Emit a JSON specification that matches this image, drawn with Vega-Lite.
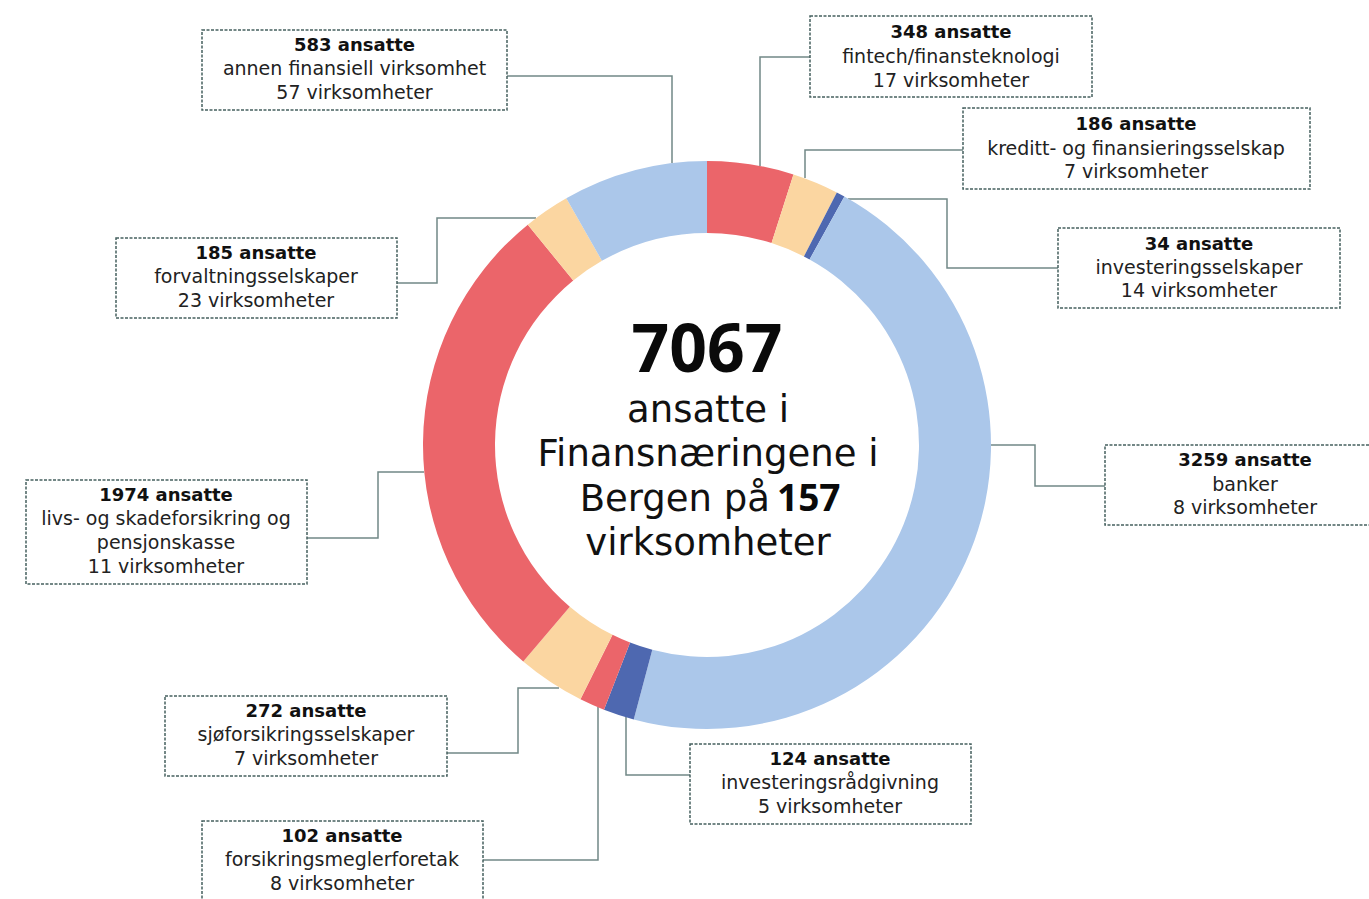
{
  "$schema": "https://vega.github.io/schema/vega-lite/v6.json",
  "width": 1369,
  "height": 899,
  "padding": 0,
  "autosize": {"type": "none"},
  "background": "white",
  "config": {"view": {"stroke": null}},
  "datasets": {
    "segs": [
      {"rank": 1, "cat": "fintech/finansteknologi", "ansatte": 348},
      {"rank": 2, "cat": "kreditt- og finansieringsselskap", "ansatte": 186},
      {"rank": 3, "cat": "investeringsselskaper", "ansatte": 34},
      {"rank": 4, "cat": "banker", "ansatte": 3259},
      {"rank": 5, "cat": "investeringsrådgivning", "ansatte": 124},
      {"rank": 6, "cat": "forsikringsmeglerforetak", "ansatte": 102},
      {"rank": 7, "cat": "sjøforsikringsselskaper", "ansatte": 272},
      {"rank": 8, "cat": "livs- og skadeforsikring og pensjonskasse", "ansatte": 1974},
      {"rank": 9, "cat": "forvaltningsselskaper", "ansatte": 185},
      {"rank": 10, "cat": "annen finansiell virksomhet", "ansatte": 583}
    ],
    "conn": [
      {"id": "annen", "o": 1, "x": 507, "y": 76}, {"id": "annen", "o": 2, "x": 672, "y": 76}, {"id": "annen", "o": 3, "x": 672, "y": 163},
      {"id": "fintech", "o": 1, "x": 810, "y": 57}, {"id": "fintech", "o": 2, "x": 760, "y": 57}, {"id": "fintech", "o": 3, "x": 760, "y": 166},
      {"id": "kreditt", "o": 1, "x": 963, "y": 150}, {"id": "kreditt", "o": 2, "x": 805, "y": 150}, {"id": "kreditt", "o": 3, "x": 805, "y": 178},
      {"id": "invsel", "o": 1, "x": 1058, "y": 268}, {"id": "invsel", "o": 2, "x": 947, "y": 268}, {"id": "invsel", "o": 3, "x": 947, "y": 199}, {"id": "invsel", "o": 4, "x": 848, "y": 199},
      {"id": "banker", "o": 1, "x": 1105, "y": 486}, {"id": "banker", "o": 2, "x": 1035, "y": 486}, {"id": "banker", "o": 3, "x": 1035, "y": 445}, {"id": "banker", "o": 4, "x": 991, "y": 445},
      {"id": "invrad", "o": 1, "x": 690, "y": 775}, {"id": "invrad", "o": 2, "x": 626, "y": 775}, {"id": "invrad", "o": 3, "x": 626, "y": 716},
      {"id": "megler", "o": 1, "x": 483, "y": 860}, {"id": "megler", "o": 2, "x": 598, "y": 860}, {"id": "megler", "o": 3, "x": 598, "y": 707},
      {"id": "sjo", "o": 1, "x": 447, "y": 753}, {"id": "sjo", "o": 2, "x": 518, "y": 753}, {"id": "sjo", "o": 3, "x": 518, "y": 688}, {"id": "sjo", "o": 4, "x": 559, "y": 688},
      {"id": "livs", "o": 1, "x": 307, "y": 538}, {"id": "livs", "o": 2, "x": 378, "y": 538}, {"id": "livs", "o": 3, "x": 378, "y": 472}, {"id": "livs", "o": 4, "x": 424, "y": 472},
      {"id": "forv", "o": 1, "x": 397, "y": 283}, {"id": "forv", "o": 2, "x": 437, "y": 283}, {"id": "forv", "o": 3, "x": 437, "y": 218}, {"id": "forv", "o": 4, "x": 536, "y": 218}
    ],
    "boxes": [
      {"id": "annen", "x0": 202, "x1": 507, "y0": 30, "y1": 110},
      {"id": "fintech", "x0": 810, "x1": 1092, "y0": 16, "y1": 97},
      {"id": "kreditt", "x0": 963, "x1": 1310, "y0": 108, "y1": 189},
      {"id": "invsel", "x0": 1058, "x1": 1340, "y0": 228, "y1": 308},
      {"id": "banker", "x0": 1105, "x1": 1385, "y0": 445, "y1": 525},
      {"id": "invrad", "x0": 690, "x1": 971, "y0": 744, "y1": 824},
      {"id": "megler", "x0": 202, "x1": 483, "y0": 821, "y1": 905},
      {"id": "sjo", "x0": 165, "x1": 447, "y0": 696, "y1": 776},
      {"id": "livs", "x0": 26, "x1": 307, "y0": 480, "y1": 584},
      {"id": "forv", "x0": 116, "x1": 397, "y0": 238, "y1": 318}
    ],
    "lines": [
      {"role": "head", "x": 354.5, "y": 46, "t": "583 ansatte"},
      {"role": "body", "x": 354.5, "y": 69, "t": "annen finansiell virksomhet"},
      {"role": "body", "x": 354.5, "y": 93, "t": "57 virksomheter"},
      {"role": "head", "x": 951, "y": 33, "t": "348 ansatte"},
      {"role": "body", "x": 951, "y": 57, "t": "fintech/finansteknologi"},
      {"role": "body", "x": 951, "y": 81, "t": "17 virksomheter"},
      {"role": "head", "x": 1136, "y": 125, "t": "186 ansatte"},
      {"role": "body", "x": 1136, "y": 149, "t": "kreditt- og finansieringsselskap"},
      {"role": "body", "x": 1136, "y": 172, "t": "7 virksomheter"},
      {"role": "head", "x": 1199, "y": 245, "t": "34 ansatte"},
      {"role": "body", "x": 1199, "y": 268, "t": "investeringsselskaper"},
      {"role": "body", "x": 1199, "y": 291, "t": "14 virksomheter"},
      {"role": "head", "x": 1245, "y": 461, "t": "3259 ansatte"},
      {"role": "body", "x": 1245, "y": 485, "t": "banker"},
      {"role": "body", "x": 1245, "y": 508, "t": "8 virksomheter"},
      {"role": "head", "x": 256, "y": 254, "t": "185 ansatte"},
      {"role": "body", "x": 256, "y": 277, "t": "forvaltningsselskaper"},
      {"role": "body", "x": 256, "y": 301, "t": "23 virksomheter"},
      {"role": "head", "x": 166, "y": 496, "t": "1974 ansatte"},
      {"role": "body", "x": 166, "y": 519, "t": "livs- og skadeforsikring og"},
      {"role": "body", "x": 166, "y": 543, "t": "pensjonskasse"},
      {"role": "body", "x": 166, "y": 567, "t": "11 virksomheter"},
      {"role": "head", "x": 306, "y": 712, "t": "272 ansatte"},
      {"role": "body", "x": 306, "y": 735, "t": "sjøforsikringsselskaper"},
      {"role": "body", "x": 306, "y": 759, "t": "7 virksomheter"},
      {"role": "head", "x": 830, "y": 760, "t": "124 ansatte"},
      {"role": "body", "x": 830, "y": 783, "t": "investeringsrådgivning"},
      {"role": "body", "x": 830, "y": 807, "t": "5 virksomheter"},
      {"role": "head", "x": 342, "y": 837, "t": "102 ansatte"},
      {"role": "body", "x": 342, "y": 860, "t": "forsikringsmeglerforetak"},
      {"role": "body", "x": 342, "y": 884, "t": "8 virksomheter"}
    ],
    "center": [
      {"role": "big", "x": 707, "y": 372, "t": "7067"},
      {"role": "mid", "x": 708, "y": 422, "t": "ansatte i"},
      {"role": "mid", "x": 708, "y": 466, "t": "Finansnæringene i"},
      {"role": "pre", "x": 770, "y": 511, "t": "Bergen på"},
      {"role": "bold", "x": 777, "y": 511, "t": "157"},
      {"role": "mid", "x": 708, "y": 555, "t": "virksomheter"}
    ]
  },
  "encoding": {
    "x": {"type": "quantitative", "scale": {"domain": [0, 1369], "nice": false, "zero": false}, "axis": null},
    "y": {"type": "quantitative", "scale": {"domain": [0, 899], "nice": false, "zero": false, "reverse": true}, "axis": null}
  },
  "layer": [
    {
      "data": {"name": "conn"},
      "mark": {"type": "line", "color": "#718887", "strokeWidth": 1.5, "interpolate": "linear"},
      "encoding": {
        "x": {"field": "x", "type": "quantitative"},
        "y": {"field": "y", "type": "quantitative"},
        "detail": {"field": "id"},
        "order": {"field": "o", "type": "quantitative"}
      }
    },
    {
      "data": {"name": "segs"},
      "mark": {"type": "arc", "innerRadius": 212, "outerRadius": 284},
      "encoding": {
        "x": {"datum": 707, "type": "quantitative"},
        "y": {"datum": 445, "type": "quantitative"},
        "theta": {"field": "ansatte", "type": "quantitative", "stack": true},
        "order": {"field": "rank", "type": "quantitative"},
        "color": {
          "field": "cat", "type": "nominal", "legend": null,
          "scale": {
            "domain": ["fintech/finansteknologi", "kreditt- og finansieringsselskap", "investeringsselskaper", "banker", "investeringsrådgivning", "forsikringsmeglerforetak", "sjøforsikringsselskaper", "livs- og skadeforsikring og pensjonskasse", "forvaltningsselskaper", "annen finansiell virksomhet"],
            "range": ["#eb656a", "#fbd6a1", "#4e68b0", "#abc7ea", "#4e68b0", "#eb656a", "#fbd6a1", "#eb656a", "#fbd6a1", "#abc7ea"]
          }
        }
      }
    },
    {
      "data": {"name": "boxes"},
      "mark": {"type": "rect", "fill": "white", "stroke": "#45605f", "strokeWidth": 1.5, "strokeDash": [3, 1.5]},
      "encoding": {
        "x": {"field": "x0", "type": "quantitative"},
        "x2": {"field": "x1"},
        "y": {"field": "y0", "type": "quantitative"},
        "y2": {"field": "y1"}
      }
    },
    {
      "data": {"name": "lines"},
      "transform": [{"filter": "datum.role === 'head'"}],
      "mark": {"type": "text", "font": "DejaVu Sans", "fontWeight": "bold", "fontSize": 18, "color": "#111111", "baseline": "middle", "align": "center"},
      "encoding": {
        "x": {"field": "x", "type": "quantitative"},
        "y": {"field": "y", "type": "quantitative"},
        "text": {"field": "t"}
      }
    },
    {
      "data": {"name": "lines"},
      "transform": [{"filter": "datum.role === 'body'"}],
      "mark": {"type": "text", "font": "DejaVu Sans", "fontSize": 19, "color": "#222222", "baseline": "middle", "align": "center"},
      "encoding": {
        "x": {"field": "x", "type": "quantitative"},
        "y": {"field": "y", "type": "quantitative"},
        "text": {"field": "t"}
      }
    },
    {
      "data": {"name": "center"},
      "transform": [{"filter": "datum.role === 'big'"}],
      "mark": {"type": "text", "font": "Open Sans", "fontWeight": "bold", "fontSize": 66, "color": "#0a0a0a", "baseline": "alphabetic", "align": "center"},
      "encoding": {
        "x": {"field": "x", "type": "quantitative"},
        "y": {"field": "y", "type": "quantitative"},
        "text": {"field": "t"}
      }
    },
    {
      "data": {"name": "center"},
      "transform": [{"filter": "datum.role === 'mid'"}],
      "mark": {"type": "text", "font": "DejaVu Sans", "fontSize": 37, "color": "#111111", "baseline": "alphabetic", "align": "center"},
      "encoding": {
        "x": {"field": "x", "type": "quantitative"},
        "y": {"field": "y", "type": "quantitative"},
        "text": {"field": "t"}
      }
    },
    {
      "data": {"name": "center"},
      "transform": [{"filter": "datum.role === 'pre'"}],
      "mark": {"type": "text", "font": "DejaVu Sans", "fontSize": 37, "color": "#111111", "baseline": "alphabetic", "align": "right"},
      "encoding": {
        "x": {"field": "x", "type": "quantitative"},
        "y": {"field": "y", "type": "quantitative"},
        "text": {"field": "t"}
      }
    },
    {
      "data": {"name": "center"},
      "transform": [{"filter": "datum.role === 'bold'"}],
      "mark": {"type": "text", "font": "Open Sans", "fontWeight": "bold", "fontSize": 37, "color": "#0a0a0a", "baseline": "alphabetic", "align": "left"},
      "encoding": {
        "x": {"field": "x", "type": "quantitative"},
        "y": {"field": "y", "type": "quantitative"},
        "text": {"field": "t"}
      }
    }
  ]
}
